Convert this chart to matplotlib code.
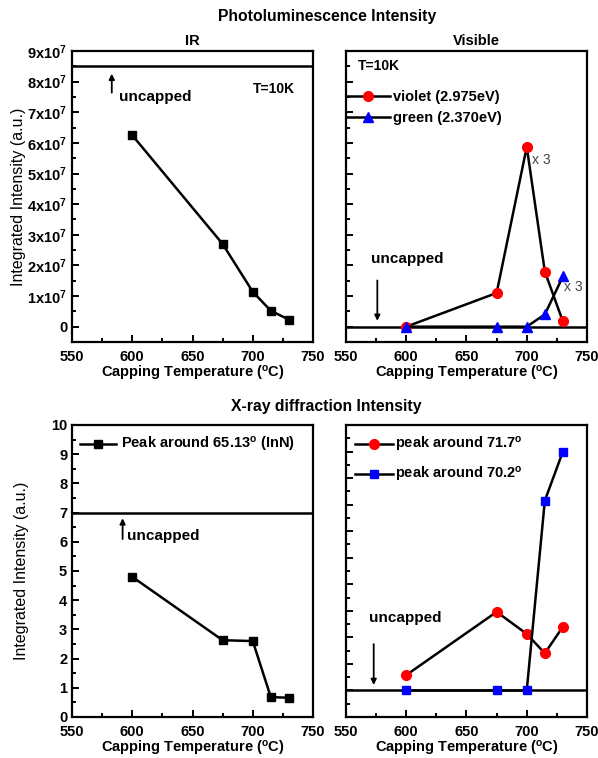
import matplotlib
matplotlib.use("Agg")
import matplotlib.pyplot as plt
from matplotlib.ticker import MultipleLocator, FixedLocator

plt.rcParams['font.family'] = ['Liberation Sans', 'DejaVu Sans']
plt.rcParams['font.weight'] = 'bold'
plt.rcParams['font.size'] = 10.5
plt.rcParams['mathtext.fontset'] = 'custom'
plt.rcParams['mathtext.rm'] = 'Liberation Sans:bold'
plt.rcParams['mathtext.it'] = 'Liberation Sans:bold'
plt.rcParams['mathtext.bf'] = 'Liberation Sans:bold'

# data
temp = [600, 675, 700, 715, 730]

ir_pl = [6.25e7, 2.7e7, 1.14e7, 0.52e7, 0.23e7]
ir_uncapped = 8.5e7

violet_pl = [0.0, 1.1e7, 5.87e7, 1.8e7, 0.17e7]
green_pl = [0.0, 0.0, 0.0, 0.4e7, 1.64e7]
vis_uncapped = 0.0

innn_xrd = [4.8, 2.63, 2.6, 0.68, 0.66]
innn_uncapped = 7.0

peak717 = [1.58, 3.96, 3.13, 2.4, 3.4]
peak702 = [1.0, 1.0, 1.0, 8.15, 10.0]
peak_uncapped = 1.0

ir_ticks = [0, 1e7, 2e7, 3e7, 4e7, 5e7, 6e7, 7e7, 8e7, 9e7]
ir_labels = ['0'] + ['%dx10$^{7}$' % i for i in range(1, 10)]

W, H = 598, 758
fig = plt.figure(figsize=(W / 100, H / 100), dpi=100)


def box(l, t, r, b):
    return [l / W, 1 - b / H, (r - l) / W, (b - t) / H]


ax1 = fig.add_axes(box(72, 51, 313, 342))
ax2 = fig.add_axes(box(346, 51, 587, 342))
ax3 = fig.add_axes(box(72, 425, 313, 717))
ax4 = fig.add_axes(box(346, 425, 587, 717))

for ax in (ax1, ax2, ax3, ax4):
    for s in ax.spines.values():
        s.set_linewidth(1.6)
    ax.set_xlim(550, 750)
    ax.xaxis.set_major_locator(MultipleLocator(50))
    ax.xaxis.set_minor_locator(MultipleLocator(25))
    ax.tick_params(which='both', direction='in', width=1.4, top=False, right=False)
    ax.tick_params(which='major', length=5)
    ax.tick_params(which='minor', length=3)
    ax.tick_params(axis='x', pad=6)
    ax.set_xlabel('Capping Temperature ($^{\\rm o}$C)', fontweight='bold', labelpad=0)

lw = 1.8
arrow = dict(arrowstyle='-|>', color='k', lw=1.3, mutation_scale=8)

# IR
ax1.set_ylim(-0.5e7, 9e7)
ax1.yaxis.set_major_locator(FixedLocator(ir_ticks))
ax1.set_yticklabels(ir_labels)
ax1.yaxis.set_minor_locator(MultipleLocator(0.5e7))
ax1.axhline(ir_uncapped, color='k', lw=lw)
ax1.plot(temp, ir_pl, 'k-s', lw=lw, ms=6)
ax1.annotate('', xy=(583, 8.35e7), xytext=(583, 7.55e7), arrowprops=arrow)
ax1.text(589, 7.5e7, 'uncapped', va='center', fontsize=11)
ax1.text(700, 7.75e7, 'T=10K', va='center', fontsize=10)
ax1.set_title('IR', fontweight='bold', fontsize=10.5, pad=4)
ax1.set_ylabel('Integrated Intensity (a.u.)', fontweight='normal', fontsize=11.5, labelpad=1)

# Visible
ax2.set_ylim(-0.5e7, 9e7)
ax2.yaxis.set_major_locator(MultipleLocator(1e7))
ax2.yaxis.set_minor_locator(MultipleLocator(0.5e7))
ax2.set_yticklabels([])
ax2.axhline(vis_uncapped, color='k', lw=lw)
ax2.plot(temp, violet_pl, 'k-', lw=lw, marker='o', mfc='red', mec='red', ms=7,
         label='violet (2.975eV)')
ax2.plot(temp, green_pl, 'k-', lw=lw, marker='^', mfc='blue', mec='blue', ms=7,
         label='green (2.370eV)')
ax2.legend(loc='upper left', bbox_to_anchor=(0.0, 0.865), frameon=False,
           borderpad=0, borderaxespad=0, handlelength=3.0, handletextpad=0.2,
           labelspacing=0.45, fontsize=10.5)
ax2.text(560, 8.5e7, 'T=10K', va='center', fontsize=10)
ax2.text(704, 5.3e7, 'x 3', fontsize=10, fontweight='normal', color='#444444')
ax2.text(731, 1.15e7, 'x 3', fontsize=10, fontweight='normal', color='#444444')
ax2.text(571, 2.2e7, 'uncapped', va='center', fontsize=11)
ax2.annotate('', xy=(576, 0.1e7), xytext=(576, 1.6e7), arrowprops=arrow)
ax2.set_title('Visible', fontweight='bold', fontsize=10.5, pad=4, x=0.54)

# XRD InN
ax3.set_ylim(0, 10)
ax3.yaxis.set_major_locator(MultipleLocator(1))
ax3.yaxis.set_minor_locator(MultipleLocator(0.5))
ax3.axhline(innn_uncapped, color='k', lw=lw)
ax3.plot(temp, innn_xrd, 'k-s', lw=lw, ms=6, label='Peak around 65.13$^{\\rm o}$ (InN)')
ax3.legend(loc='upper left', bbox_to_anchor=(0.033, 0.965), frameon=False,
           borderpad=0, borderaxespad=0, handlelength=2.5, handletextpad=0.3,
           fontsize=10.5)
ax3.annotate('', xy=(592, 6.9), xytext=(592, 6.0), arrowprops=arrow)
ax3.text(596, 6.2, 'uncapped', va='center', fontsize=11)
ax3.set_ylabel('Integrated Intensity (a.u.)', fontweight='normal', fontsize=11.5, labelpad=16)

# XRD other peaks
ax4.set_ylim(0, 11)
ax4.yaxis.set_major_locator(MultipleLocator(1))
ax4.yaxis.set_minor_locator(MultipleLocator(0.5))
ax4.set_yticklabels([])
ax4.axhline(peak_uncapped, color='k', lw=lw)
ax4.plot(temp, peak717, 'k-', lw=lw, marker='o', mfc='red', mec='red', ms=7,
         label='peak around 71.7$^{\\rm o}$')
ax4.plot(temp, peak702, 'k-', lw=lw, marker='s', mfc='blue', mec='blue', ms=6,
         label='peak around 70.2$^{\\rm o}$')
ax4.legend(loc='upper left', bbox_to_anchor=(0.037, 0.965), frameon=False,
           borderpad=0, borderaxespad=0, handlelength=2.6, handletextpad=0.15,
           labelspacing=0.75, fontsize=10.5)
ax4.text(569, 3.74, 'uncapped', va='center', fontsize=11)
ax4.annotate('', xy=(573, 1.1), xytext=(573, 2.85), arrowprops=arrow)

fig.text(327 / W, 1 - 16 / H, 'Photoluminescence Intensity', ha='center', va='center',
         fontweight='bold', fontsize=11.3)
fig.text(326 / W, 1 - 407 / H, 'X-ray diffraction Intensity', ha='center', va='center',
         fontweight='bold', fontsize=11.3)

fig.savefig('out.png', dpi=100)
